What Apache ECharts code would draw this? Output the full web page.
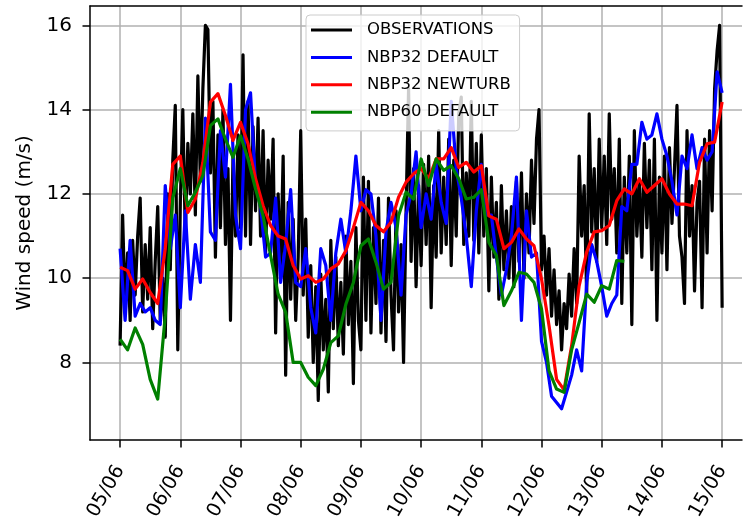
<!DOCTYPE html>
<html><head><meta charset="utf-8">
<script src="https://cdn.jsdelivr.net/npm/echarts@6/dist/echarts.min.js"></script>
<style>html,body{margin:0;padding:0;background:#fff}#c{width:743px;height:524px}</style>
</head><body><div id="c"></div>
<script>
// x axis: days since 05/06 00:00
const xTickDays = [0,1,2,3,4,5,6,7,8,9,10];
const xTickLabels = ['05/06','06/06','07/06','08/06','09/06','10/06','11/06','12/06','13/06','14/06','15/06'];
const yTickValues = [8,10,12,14,16];
const seriesNames = ['OBSERVATIONS','NBP32 DEFAULT','NBP32 NEWTURB','NBP60 DEFAULT'];

// OBSERVATIONS, hourly from 05/06 00:00
const obsStepHours = 1;
const obsValues = [
  8.4, 11.5, 9.3, 10.6, 9.0, 10.9, 9.6, 11.0, 11.9, 9.2, 10.8, 9.5,
  11.2, 8.8, 10.4, 11.7, 9.0, 10.0, 8.6, 12.0, 10.2, 12.8, 14.1, 8.3,
  11.8, 14.0, 11.0, 13.2, 12.0, 13.9, 11.5, 14.8, 12.3, 14.5, 16.0, 15.9,
  12.5, 14.2, 10.5, 13.4, 11.2, 14.0, 10.8, 12.6, 9.0, 12.9, 11.0, 13.4,
  11.2, 15.3, 11.0, 14.2, 10.8, 13.6, 11.6, 13.8, 11.0, 13.5, 10.6, 12.8,
  11.4, 13.3, 8.7, 12.0, 10.2, 12.9, 7.7, 11.8, 9.5, 11.4, 9.0, 10.5,
  13.5, 9.6, 11.4, 8.6, 10.3, 8.0, 9.8, 7.1, 10.1, 8.3, 9.5, 7.3,
  10.9, 8.8, 10.5, 8.4, 9.9, 8.2, 11.0, 8.9, 10.4, 7.5, 11.2, 9.0,
  8.3, 12.4, 9.0, 12.3, 8.7, 11.2, 9.4, 11.9, 8.7, 10.9, 8.5, 11.9,
  9.6, 8.3, 11.6, 9.2, 10.8, 8.0, 11.6, 14.5, 10.4, 12.6, 9.8, 12.2,
  10.3, 12.7, 10.8, 12.9, 9.3, 12.2, 10.5, 13.5, 10.6, 12.4, 10.8, 13.3,
  10.3, 12.8, 11.0, 13.9, 14.3, 10.8, 12.5, 11.0, 14.2, 10.9, 13.2, 10.6,
  13.4, 11.0, 12.6, 9.7, 12.4, 10.5, 11.8, 9.5, 12.2, 10.2, 11.6, 10.0,
  11.7, 9.8, 12.3, 10.4, 12.5, 10.0, 12.0, 10.6, 12.8, 11.3, 13.3, 14.0,
  10.2, 11.0, 9.6, 10.7, 9.1, 10.2, 8.9, 9.7, 8.3, 9.4, 8.8, 10.1,
  9.1, 10.7, 9.4, 12.9, 11.0, 12.2, 9.6, 13.9, 11.1, 12.6, 10.4, 13.3,
  11.2, 12.9, 10.8, 13.9, 11.4, 12.6, 10.6, 13.3, 9.4, 12.4, 10.6, 12.9,
  8.9, 13.5, 11.0, 12.3, 10.5, 13.2, 11.2, 12.8, 10.2, 13.3, 9.0, 12.4,
  10.6, 12.9, 10.2, 13.1, 11.3, 12.6, 14.1, 11.0, 10.5, 9.4, 13.5, 11.0,
  12.2, 9.7, 11.8, 12.3, 9.3, 13.3, 10.6, 13.5, 11.6, 14.5, 15.4, 16.0,
  9.3
];

// NBP32 DEFAULT, every 2 h
const blueStepHours = 2;
const blueValues = [
  10.7, 9.0, 10.9, 9.1, 9.4, 9.2, 9.3, 9.0, 8.9, 12.2, 10.7, 11.5,
  9.3, 11.6, 9.5, 10.8, 9.9, 13.8, 11.1, 10.9, 13.5, 12.4, 14.6, 11.5,
  10.7, 14.0, 14.4, 12.2, 11.7, 10.5, 10.6, 11.9, 9.9, 10.8, 12.1, 9.9,
  9.8, 10.7, 9.3, 8.7, 10.7, 10.3, 9.0, 10.6, 11.4, 10.6, 11.6, 12.9,
  11.6, 12.1, 12.0, 11.0, 9.0, 11.1, 11.8, 11.2, 9.6, 11.5, 12.0, 13.0,
  11.2, 12.0, 11.4, 12.7, 11.8, 11.3, 14.2, 12.6, 11.9, 11.0, 9.8, 11.6,
  12.7, 11.5, 11.5, 10.5, 9.6, 10.2, 11.0, 12.4, 9.0, 11.6, 10.5, 10.6,
  8.5, 8.0, 7.2, 7.05, 6.9, 7.3, 7.7, 8.3, 7.8, 9.9, 10.8, 10.4,
  9.8, 9.1, 9.4, 9.6, 11.7, 11.6, 12.7, 12.7, 13.7, 13.3, 13.4, 13.9,
  13.3, 12.9, 12.3, 11.5, 12.9, 12.6, 13.4, 12.6, 13.1, 12.8, 13.0, 14.9,
  14.4
];

// NBP32 NEWTURB, every 3 h
const redStepHours = 3;
const redValues = [
  10.26, 10.18, 9.74, 9.98, 9.66, 9.4, 10.7, 12.7, 12.9, 11.56, 11.88, 12.75, 14.18, 14.38, 13.86, 13.27,
  13.7, 13.19, 12.36, 11.72, 11.25, 11.0, 10.93, 10.3, 9.98, 10.06, 9.9, 9.98, 10.22, 10.34, 10.65, 11.2,
  11.8, 11.6, 11.25, 11.1, 11.33, 11.92, 12.28, 12.48, 12.6, 12.36, 12.83, 12.83, 13.1, 12.63, 12.75, 12.52,
  12.67, 11.48, 11.4, 10.7, 10.85, 11.17, 10.93, 10.77, 9.98, 8.87, 7.6, 7.35, 8.4, 9.82, 10.62, 11.1,
  11.13, 11.25, 11.84, 12.12, 12.0, 12.36, 12.04, 12.2, 12.36, 12.0, 11.76, 11.76, 11.72, 12.75, 13.19, 13.23,
  14.18
];

// NBP60 DEFAULT, every 3 h (ends 13/06 09:00)
const greenStepHours = 3;
const greenValues = [
  8.55, 8.3, 8.82, 8.43, 7.6, 7.13, 9.11, 11.9, 12.6, 11.72, 12.04, 12.44, 13.62, 13.78, 13.3, 12.87,
  13.38, 12.83, 12.12, 11.48, 10.54, 9.62, 9.19, 8.0, 8.0, 7.65, 7.45, 7.84, 8.47, 8.63, 9.38, 9.9,
  10.77, 10.93, 10.38, 9.74, 9.9, 11.48, 12.04, 11.88, 12.83, 12.2, 12.83, 12.56, 12.67, 12.36, 11.88, 11.92,
  12.1, 10.85, 10.54, 9.35, 9.7, 10.14, 10.1, 9.9, 9.27, 7.8, 7.37, 7.29, 8.3, 8.95, 9.62, 9.43,
  9.82, 9.74, 10.42, 10.4
];

function toPairs(stepHours, vals) {
  return vals.map(function (v, i) { return [i * stepHours / 24, v]; });
}

const FONT = 'DejaVu Sans';
const chart = echarts.init(document.getElementById('c'), null, {renderer: 'canvas'});

function lineSeries(name, color, data) {
  return {
    name: name, type: 'line', data: data, color: color,
    showSymbol: false, symbol: 'none', silent: true,
    lineStyle: {color: color, width: 3.2, join: 'round'},
    emphasis: {disabled: true}
  };
}

chart.setOption({
  animation: false,
  backgroundColor: '#ffffff',
  grid: {left: 90, right: 1, top: 6, bottom: 84, containLabel: false},
  xAxis: [{
    type: 'value', min: -0.5, max: 10.33, position: 'bottom',
    axisLine: {show: true, onZero: false, lineStyle: {color: '#000', width: 1.5}},
    axisTick: {show: true, customValues: xTickDays, length: 7.5, lineStyle: {color: '#000', width: 1.5}},
    axisLabel: {
      customValues: xTickDays, rotate: 60, margin: 27, fontSize: 19.5, color: '#000', fontFamily: FONT,
      formatter: function (v) { const i = xTickDays.indexOf(v); return i >= 0 ? xTickLabels[i] : ''; }
    },
    splitLine: {show: true, lineStyle: {color: '#b0b0b0', width: 1.5}}
  }, {
    type: 'value', min: -0.5, max: 10.33, position: 'top',
    axisLine: {show: true, onZero: false, lineStyle: {color: '#000', width: 1.5}},
    axisTick: {show: false}, axisLabel: {show: false}, splitLine: {show: false}
  }],
  yAxis: {
    type: 'value', min: 6.16, max: 16.46,
    name: 'Wind speed (m/s)', nameLocation: 'middle', nameGap: 55,
    nameTextStyle: {fontSize: 20, fontFamily: FONT, color: '#000'},
    axisLine: {show: true, onZero: false, lineStyle: {color: '#000', width: 1.5}},
    axisTick: {show: true, customValues: yTickValues, length: 7.5, lineStyle: {color: '#000', width: 1.5}},
    axisLabel: {customValues: yTickValues, margin: 18, fontSize: 20, color: '#000', fontFamily: FONT},
    splitLine: {show: true, lineStyle: {color: '#b0b0b0', width: 1.5}}
  },
  legend: {
    data: seriesNames.map(function (n) { return {name: n, icon: 'rect'}; }),
    orient: 'vertical', left: 306, top: 15,
    itemWidth: 41, itemHeight: 3, itemGap: 9.4,
    padding: [6, 8.7, 9.7, 5],
    backgroundColor: 'rgba(255,255,255,0.8)', borderColor: '#cccccc', borderWidth: 1, borderRadius: 4,
    textStyle: {fontSize: 16.5, fontFamily: FONT, color: '#000', lineHeight: 18, padding: [0, 0, 0, 10]},
    selectedMode: false
  },
  series: [
    lineSeries(seriesNames[0], '#000000', toPairs(obsStepHours, obsValues)),
    lineSeries(seriesNames[1], '#0000ff', toPairs(blueStepHours, blueValues)),
    lineSeries(seriesNames[2], '#ff0000', toPairs(redStepHours, redValues)),
    lineSeries(seriesNames[3], '#008000', toPairs(greenStepHours, greenValues))
  ]
});
</script>
</body></html>
